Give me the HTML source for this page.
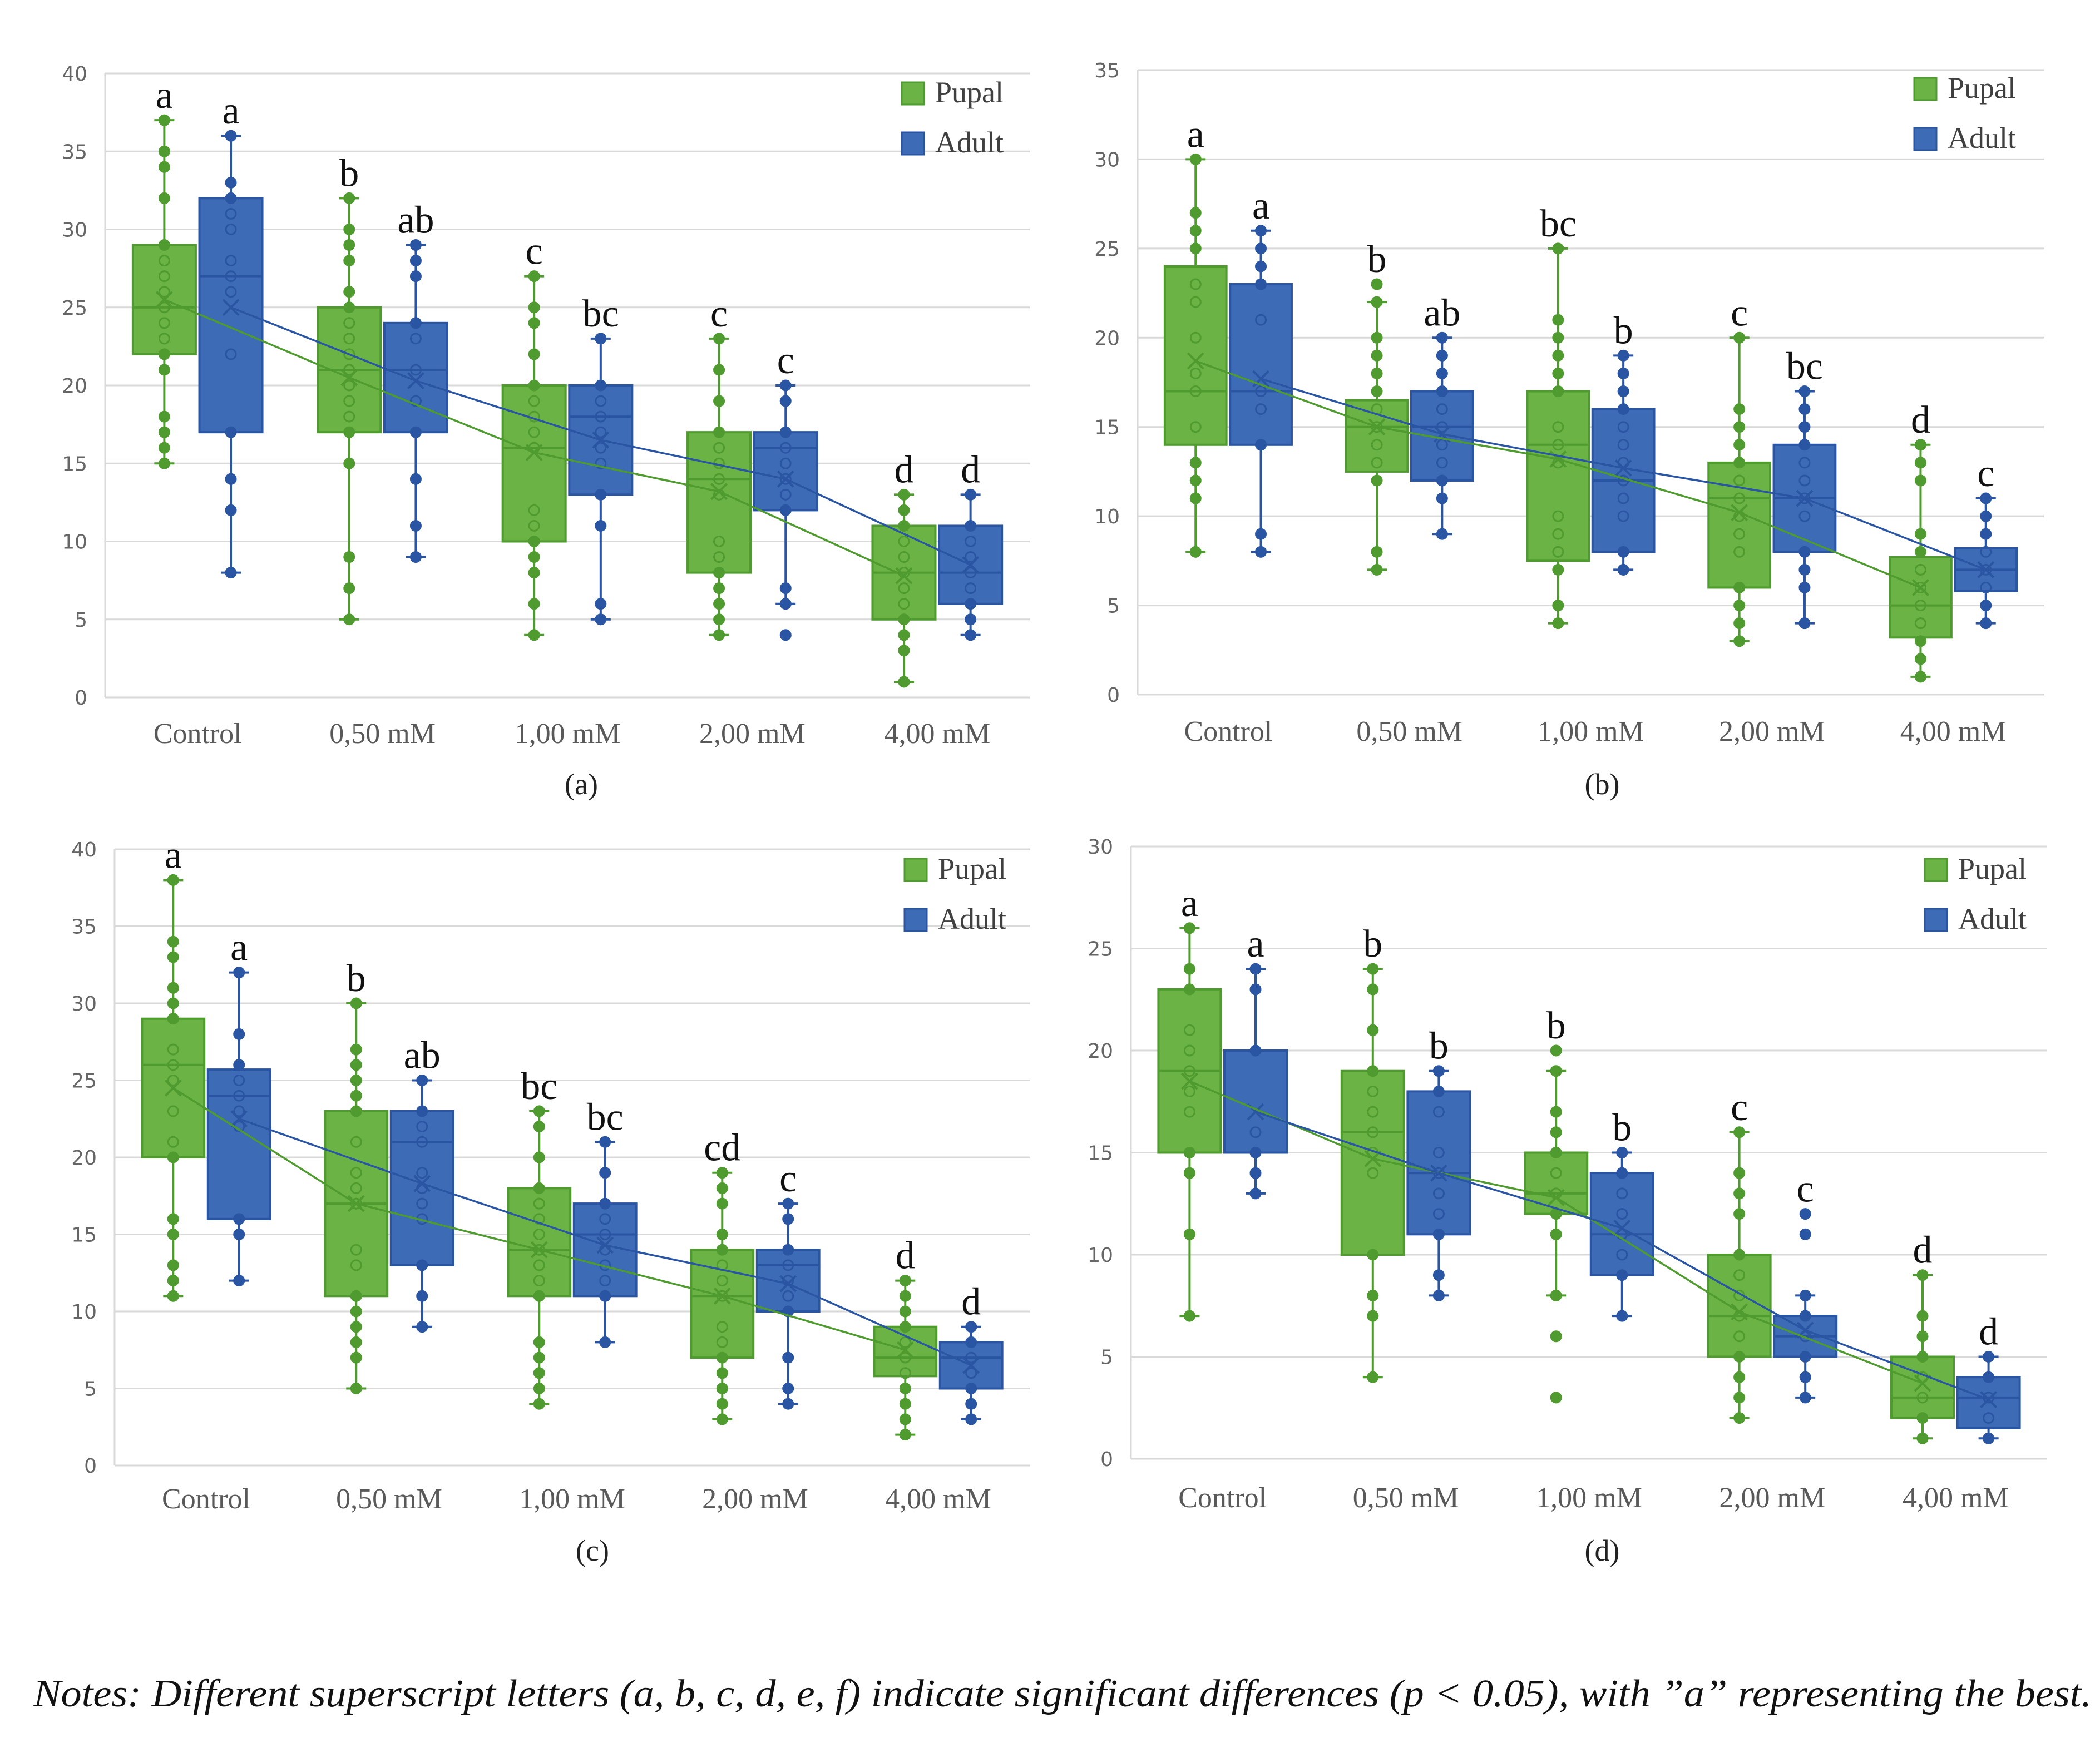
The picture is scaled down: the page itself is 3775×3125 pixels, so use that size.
<!DOCTYPE html>
<html><head><meta charset="utf-8"><style>
html,body{margin:0;padding:0;background:#fff;}
svg{display:block;}
</style></head><body>
<svg id="fig" xmlns="http://www.w3.org/2000/svg" width="3775" height="3125" viewBox="0 0 3775 3125">
<rect x="0" y="0" width="3775" height="3125" fill="#fff"/>
<text x="60" y="3068" font-family="Liberation Serif, serif" font-style="italic" font-size="70" fill="#111" textLength="3700" lengthAdjust="spacingAndGlyphs">Notes: Different superscript letters (a, b, c, d, e, f) indicate significant differences (p &lt; 0.05), with ”a” representing the best.</text>
</svg>
<script>
const categories = ["Control","0,50 mM","1,00 mM","2,00 mM","4,00 mM"];
// box stats per panel: [q1, median, q3, whiskerLow, whiskerHigh, mean]
const aPupal = [[22,25,29,15,37,25.5],[17,21,25,5,32,20.5],[10,16,20,4,27,15.7],[8,14,17,4,23,13.2],[5,8,11,1,13,7.8]];
const aAdult = [[17,27,32,8,36,25],[17,21,24,9,29,20.3],[13,18,20,5,23,16.5],[12,16,17,6,20,14],[6,8,11,4,13,8.5]];
const aPupalPts = [[37,35,34,32,29,28,27,26,25,24,23,22,21,18,17,16,15],[32,30,29,28,26,25,24,23,22,21,20,19,18,17,15,9,7,5],[27,25,24,22,20,19,18,17,16,12,11,10,9,8,6,4],[23,21,19,17,16,15,14,13,10,9,8,7,6,5,4],[13,12,11,10,9,8,7,6,5,4,3,1]];
const aAdultPts = [[36,33,32,31,30,28,27,26,22,17,14,12,8],[29,28,27,24,23,21,19,17,14,11,9],[23,20,19,18,17,16,15,13,11,6,5],[20,19,17,16,15,14,13,12,7,6,4],[13,11,10,9,8,7,6,5,4]];
const aLetters = [["a","a"],["b","ab"],["c","bc"],["c","c"],["d","d"]];

const bPupal = [[14,17,24,8,30,18.7],[12.5,15,16.5,7,22,15],[7.5,14,17,4,25,13.2],[6,11,13,3,20,10.2],[3.2,5,7.7,1,14,6]];
const bAdult = [[14,17,23,8,26,17.7],[12,15,17,9,20,14.6],[8,12,16,7,19,12.7],[8,11,14,4,17,11],[5.8,7,8.2,4,11,7]];
const bPupalPts = [[30,27,26,25,23,22,20,18,17,15,13,12,11,8],[23,22,20,19,18,17,16,15,14,13,12,8,7],[25,21,20,19,18,17,15,14,13,10,9,8,7,5,4],[20,16,15,14,13,12,11,10,9,8,6,5,4,3],[14,13,12,9,8,7,6,5,4,3,2,1]];
const bAdultPts = [[26,25,24,23,21,17,16,14,9,8],[20,19,18,17,16,15,14,13,12,11,9],[19,18,17,16,15,14,13,12,11,10,8,7],[17,16,15,14,13,12,11,10,8,7,6,4],[11,10,9,8,7,6,5,4]];
const bLetters = [["a","a"],["b","ab"],["bc","b"],["c","bc"],["d","c"]];

const cPupal = [[20,26,29,11,38,24.5],[11,17,23,5,30,17],[11,14,18,4,23,14],[7,11,14,3,19,11],[5.8,7,9,2,12,7.5]];
const cAdult = [[16,24,25.7,12,32,22.5],[13,21,23,9,25,18.3],[11,15,17,8,21,14.3],[10,13,14,4,17,11.8],[5,7,8,3,9,6.5]];
const cPupalPts = [[38,34,33,31,30,29,27,26,25,23,21,20,16,15,13,12,11],[30,27,26,25,24,23,21,19,18,17,14,13,11,10,9,8,7,5],[23,22,20,18,17,16,15,14,13,12,11,8,7,6,5,4],[19,18,17,15,14,13,12,11,9,8,7,6,5,4,3],[12,11,10,9,8,7,6,5,4,3,2]];
const cAdultPts = [[32,28,26,25,24,23,22,16,15,12],[25,23,22,21,19,18,17,16,13,11,9],[21,19,17,16,15,14,13,12,11,8],[17,16,14,13,12,11,10,7,5,4],[9,8,7,6,5,4,3]];
const cLetters = [["a","a"],["b","ab"],["bc","bc"],["cd","c"],["d","d"]];

const dPupal = [[15,19,23,7,26,18.5],[10,16,19,4,24,14.7],[12,13,15,8,19,12.8],[5,7,10,2,16,7.2],[2,3,5,1,9,3.7]];
const dAdult = [[15,15,20,13,24,17],[11,14,18,8,19,14],[9,11,14,7,15,11.3],[5,6,7,3,8,6.3],[1.5,3,4,1,5,2.9]];
const dPupalPts = [[26,24,23,21,20,19,18,17,15,14,11,7],[24,23,21,19,18,17,16,15,14,10,8,7,4],[20,19,17,16,15,14,13,12,11,8,6,3],[16,14,13,12,10,9,8,7,6,5,4,3,2],[9,7,6,5,4,3,2,1]];
const dAdultPts = [[24,23,20,16,15,14,13],[19,18,17,15,14,13,12,11,9,8],[15,14,13,12,11,10,9,7],[12,11,8,7,6,5,4,3],[5,4,3,2,1]];
const dLetters = [["a","a"],["b","b"],["b","b"],["c","c"],["d","d"]];

const NS = "http://www.w3.org/2000/svg";
const svg = document.getElementById("fig");
const GF = "#6ab344", GS = "#4f9b2f", BF = "#3e6bb6", BS = "#2a55a2";

function mk(tag, attrs, parent, text) {
  const e = document.createElementNS(NS, tag);
  for (const k in attrs) e.setAttribute(k, attrs[k]);
  if (text !== undefined) e.textContent = text;
  parent.appendChild(e);
  return e;
}

function panel(cfg) {
  const g = mk("g", {}, svg);
  
  
  const L = cfg.L, R = cfg.R, T = cfg.T, B = cfg.B, max = cfg.max;
  const y = v => B - (v / max) * (B - T);
  const catW = (R - L) / categories.length;
  const cx = i => L + (i + 0.5) * catW;
  const bw = catW * 0.34, off = catW * 0.18;
  for (let v = 0; v <= max; v += 5) {
    const gl = mk("line", {x1: L, x2: R, y1: y(v), y2: y(v), stroke: "#d9d9d9", "stroke-width": 3}, g);
    
    
    const t = mk("text", {x: L - 32, y: y(v) + 13, "text-anchor": "end", "font-family": "DejaVu Sans, sans-serif", "font-size": 36, fill: "#666"}, g, String(v));
    
    
  }
  const ax = mk("line", {x1: L, x2: L, y1: T, y2: B, stroke: "#d9d9d9", "stroke-width": 3}, g);
  
  
  categories.forEach((c, i) => {
    const t = mk("text", {x: cx(i), y: cfg.labY, "text-anchor": "middle", "font-family": "Liberation Serif, serif", "font-size": 52, fill: "#595959"}, g, c);
    
    
  });
  const series = [
    {stats: cfg.p, pts: cfg.pp, fill: GF, stroke: GS, dx: -off, li: 0},
    {stats: cfg.a, pts: cfg.ap, fill: BF, stroke: BS, dx: off, li: 1}
  ];
  series.forEach((s, si) => {
    s.stats.forEach((st, i) => {
      const x = cx(i) + s.dx;
      const [q1, md, q3, lo, hi, mean] = st;
      const wl = mk("line", {x1: x, x2: x, y1: y(hi), y2: y(lo), stroke: s.stroke, "stroke-width": 4}, g);
      
      
      [hi, lo].forEach(v => {
        const cap = mk("line", {x1: x - 18, x2: x + 18, y1: y(v), y2: y(v), stroke: s.stroke, "stroke-width": 4}, g);
        
        
      });
      const bx = mk("rect", {x: x - bw / 2, y: y(q3), width: bw, height: y(q1) - y(q3), fill: s.fill, stroke: s.stroke, "stroke-width": 4}, g);
      
      
      const ml = mk("line", {x1: x - bw / 2, x2: x + bw / 2, y1: y(md), y2: y(md), stroke: s.stroke, "stroke-width": 4}, g);
      
      
      s.pts[i].forEach(v => {
        const inside = v > q1 && v < q3;
        const p = mk("circle", {cx: x, cy: y(v), r: 9, fill: inside ? "none" : s.stroke, stroke: s.stroke, "stroke-width": 3}, g);
        
        
      });
      const mx = mk("path", {d: `M${x - 14},${y(mean) - 14}L${x + 14},${y(mean) + 14}M${x + 14},${y(mean) - 14}L${x - 14},${y(mean) + 14}`, stroke: s.stroke, "stroke-width": 4, fill: "none"}, g);
      
      
      const top = Math.max(hi, ...s.pts[i]);
      const lt = mk("text", {x: x, y: y(top) - 22, "text-anchor": "middle", "font-family": "Liberation Serif, serif", "font-size": 70, fill: "#111"}, g, cfg.letters[i][s.li]);
      
      
    });
  });
  series.forEach((s, si) => {
    const d = s.stats.map((st, i) => (i ? "L" : "M") + (cx(i) + s.dx) + "," + y(st[5])).join("");
    const ln = mk("path", {d: d, stroke: s.stroke, "stroke-width": 3.5, fill: "none"}, g);
    
    
  });
  [["Pupal", GF, GS, 0], ["Adult", BF, BS, 1]].forEach(([name, f, st, k]) => {
    const ly = cfg.legY + k * 90;
    const sq = mk("rect", {x: cfg.legX, y: ly, width: 40, height: 40, fill: f, stroke: st, "stroke-width": 3}, g);
    
    
    const lt = mk("text", {x: cfg.legX + 60, y: ly + 36, "font-family": "Liberation Serif, serif", "font-size": 54, fill: "#404040"}, g, name);
    
    
  });
  const cap = mk("text", {x: cfg.capX, y: cfg.capY, "text-anchor": "middle", "font-family": "Liberation Serif, serif", "font-size": 54, fill: "#222"}, g, "(" + cfg.id + ")");
  
  
}

panel({id: "a", L: 189, R: 1851, T: 132, B: 1254, max: 40, labY: 1336, capX: 1045, capY: 1428, legX: 1621, legY: 148, p: aPupal, a: aAdult, pp: aPupalPts, ap: aAdultPts, letters: aLetters});
panel({id: "b", L: 2045, R: 3674, T: 126, B: 1249, max: 35, labY: 1332, capX: 2880, capY: 1428, legX: 3441, legY: 140, p: bPupal, a: bAdult, pp: bPupalPts, ap: bAdultPts, letters: bLetters});
panel({id: "c", L: 206, R: 1851, T: 1527, B: 2635, max: 40, labY: 2712, capX: 1065, capY: 2806, legX: 1626, legY: 1544, p: cPupal, a: cAdult, pp: cPupalPts, ap: cAdultPts, letters: cLetters});
panel({id: "d", L: 2033, R: 3680, T: 1522, B: 2623, max: 30, labY: 2710, capX: 2880, capY: 2806, legX: 3460, legY: 1544, p: dPupal, a: dAdult, pp: dPupalPts, ap: dAdultPts, letters: dLetters});
</script>
</body></html>
